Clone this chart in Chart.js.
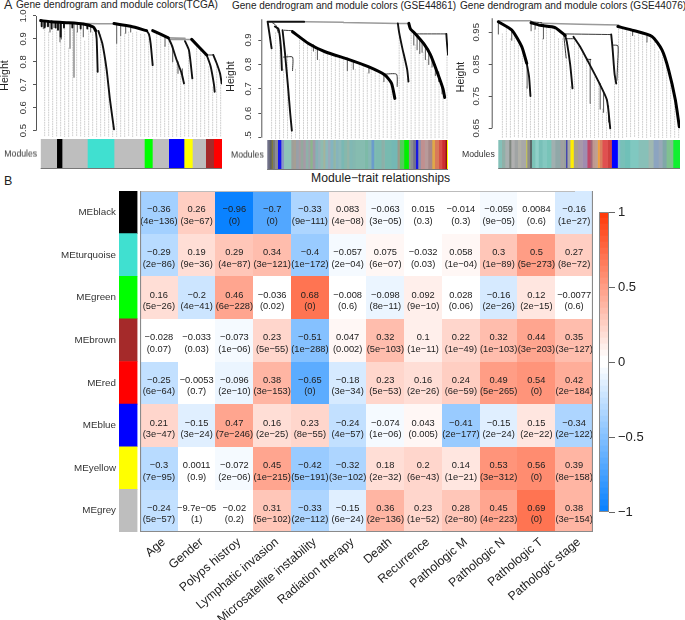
<!DOCTYPE html>
<html><head><meta charset="utf-8">
<script src="https://cdn.jsdelivr.net/npm/chart.js@4"></script>
<style>
html,body{margin:0;padding:0;background:#fff;width:685px;height:620px;overflow:hidden;font-family:"Liberation Sans",Arial,sans-serif;color:#222}
canvas{position:absolute;display:block}
.t{position:absolute;white-space:nowrap;line-height:1}
</style></head><body>
<div class="t" style="left:4px;top:-1px;font-size:12.5px">A</div>
<div class="t" style="left:16px;top:0px;font-size:10.1px">Gene dendrogram and module colors(TCGA)</div>
<div class="t" style="left:232px;top:1px;font-size:10px">Gene dendrogram and module colors (GSE44861)</div>
<div class="t" style="left:460px;top:1px;font-size:10.1px">Gene dendrogram and module colors (GSE44076)</div>
<div class="t" style="left:4px;top:175px;font-size:12.5px">B</div>
<div class="t" style="left:311px;top:172px;font-size:12.2px">Module−trait relationships</div>
<script>
// ---------- Module-trait heatmap data ----------
const modules = ["MEblack","MEturquoise","MEgreen","MEbrown","MEred","MEblue","MEyellow","MEgrey"];
const moduleColors = ["#000000","#40e0d0","#00ff00","#a52a2a","#ff0000","#0000ff","#ffff00","#bebebe"];
const traits = ["Age","Gender","Polyps histroy","Lymphatic invasion","Microsatellite instability","Radiation therapy","Death","Recurrence","Pathologic M","Pathologic N","Pathologic T","Pathologic stage"];
const corrBlack = [-0.36,0.26,-0.96,-0.7,-0.33,0.083,-0.063,0.015,-0.014,-0.059,0.0084,-0.16];
const corrTurquoise = [-0.29,0.19,0.29,0.34,-0.4,-0.057,0.075,-0.032,0.058,0.3,0.5,0.27];
const corrGreen = [0.16,-0.2,0.46,-0.036,0.68,-0.008,-0.098,0.092,0.028,-0.16,0.12,-0.0077];
const corrBrown = [-0.028,-0.033,-0.073,0.23,-0.51,0.047,0.32,0.1,0.22,0.32,0.44,0.35];
const corrRed = [-0.25,-0.0053,-0.096,0.38,-0.65,-0.18,0.23,0.16,0.24,0.49,0.54,0.42];
const corrBlue = [0.21,-0.15,0.47,0.16,0.23,-0.24,-0.074,0.043,-0.41,-0.15,0.15,-0.34];
const corrYellow = [-0.3,0.0011,-0.072,0.45,-0.42,-0.32,0.18,0.2,0.14,0.53,0.56,0.39];
const corrGrey = [-0.24,-9.7e-05,-0.02,0.31,-0.33,-0.15,0.36,0.23,0.28,0.45,0.69,0.38];
const pBlack = ["4e-136","3e-67","0","0","9e-111","4e-08","3e-05","0.3","0.3","9e-05","0.6","1e-27"];
const pTurquoise = ["2e-86","9e-36","4e-87","3e-121","1e-172","2e-04","6e-07","0.03","1e-04","1e-89","5e-273","8e-72"];
const pGreen = ["5e-26","4e-41","6e-228","0.02","0","0.6","8e-11","9e-10","0.06","2e-26","2e-15","0.6"];
const pBrown = ["0.07","0.03","1e-06","5e-55","1e-288","0.002","5e-103","1e-11","1e-49","1e-103","3e-203","3e-127"];
const pRed = ["6e-64","0.7","2e-10","3e-153","0","3e-34","5e-53","2e-26","6e-59","5e-265","0","2e-184"];
const pBlue = ["3e-47","3e-24","7e-246","2e-25","8e-55","4e-57","1e-06","0.005","2e-177","2e-24","2e-22","2e-122"];
const pYellow = ["7e-95","0.9","2e-06","1e-215","5e-191","3e-102","2e-32","6e-43","1e-21","3e-312","0","8e-158"];
const pGrey = ["5e-57","1","0.2","5e-102","2e-112","6e-24","2e-136","1e-52","2e-80","4e-223","0","3e-154"];
const corrRows = [corrBlack,corrTurquoise,corrGreen,corrBrown,corrRed,corrBlue,corrYellow,corrGrey];
const pRows = [pBlack,pTurquoise,pGreen,pBrown,pRed,pBlue,pYellow,pGrey];
const legendTicks = [-1,-0.5,0,0.5,1];

// ---------- Module colour strips (widths along the gene order) ----------
const stripWidths1 = [48,16,76,80,91,24,49,46,25,40,24,25];
const stripColors1 = ["#bebebe","#000000","#bebebe","#40e0d0","#bebebe","#00ff00","#bebebe","#0000ff","#ffff00","#bebebe","#a52a2a","#ff0000"];
const stripWidths2 = [6,6,4,6,9,10,8,22,6,8,8,6,8,7,8,6,7,8,8,7,9,6,8,7,9,7,8,9,8,9,7,9,9,28,10,10,8,5,17,10,20,18,7,13,14,6,7,8,7,8,12,10,12,8,12,10,10,4,4];
const stripColors2 = ["#6f7088","#5e6068","#7d7a3a","#77787a","#8c8c92","#1414ee","#8a98c4","#8fc3b8","#9d9f9a","#a59f94","#98a0a8","#a89aa0","#94a89e","#a79aa6","#8fb0a8","#a0a0a8","#8cb48c","#a09aa8","#86b2b6","#96aeb8","#8fbab0","#a4b49c","#8cb8bc","#9caab8","#84b4c0","#92b6a4","#86b4bc","#8cb8b8","#7ab8b4","#86b8ac","#94b4a8","#80b8b4","#84b8b0","#86bcb0","#7dbaa8","#86b8b4","#6a9ccc","#7cbab0","#7cbab0","#8cb0a8","#78bab0","#74b8b4","#9a9a8a","#52cc5a","#00f000","#8c9c84","#8c8c90","#70708c","#1818e0","#9090a8","#c09090","#b89a9a","#a88888","#e0a848","#d87a5a","#d85048","#cc3030","#901010","#ffff00"];
const stripWidths3 = [10,10,12,6,10,10,10,14,4,8,6,10,10,12,13,13,12,15,10,7,4,9,10,13,14,14,9,6,8,8,6,8,16,12,18,7,15,15,25,30,15,15,12,12,20,21];
const stripColors3 = ["#84c0b8","#90b0a8","#a8b0b0","#808880","#b0b0b0","#a0a4a4","#b0b0a8","#a8a8a8","#c0c060","#8c8c8c","#5c6868","#7cc4b8","#90d0c8","#78c0b8","#84c8c0","#78c4b8","#a0b0b0","#90a8a8","#a0a0a0","#98a09c","#3c3cb0","#a8a8a0","#ffee00","#a8a090","#a898a8","#a08cb0","#c04868","#a06878","#c09890","#c0a090","#f0a040","#d88060","#e05050","#d04040","#0000ff","#88b8d0","#78c0b8","#70c0b8","#80c8c0","#88c0b8","#a0b8b0","#8ca4c0","#98a8b8","#80a8a8","#80c090","#10f030"];

// ---------- Dendrogram branches: [gene order, height] ----------
const guideX = [12,24,36,48,60,72,84,96,108,120,132,144,156,168,180,192,204,216,228,240,252,264,276,288,300,312,324,336,348,360,372,384,396,408,420,432,444,456,468,480,492,504,516,528,540];
const guideTop1 = [.94,.93,.945,.95,.885,.945,.86,.94,.93,.95,.89,.945,.93,.76,.92,.82,.67,.52,.88,.915,.925,.93,.925,.93,.92,.92,.9,.79,.92,.91,.87,.89,.86,.8,.76,.71,.85,.73,.88,.86,.84,.78,.69,.79,.71];
const guideTop2 = [.87,.93,.93,.78,.84,.53,.78,.92,.9,.88,.87,.86,.82,.85,.84,.835,.83,.825,.82,.775,.81,.78,.8,.795,.765,.78,.775,.765,.73,.74,.72,.66,.91,.85,.74,.93,.88,.85,.85,.82,.79,.76,.73,.68,.84];
const guideTop3 = [.945,.97,.93,.94,.925,.9,.78,.75,.96,.97,.93,.965,.96,.96,.93,.93,.87,.78,.93,.91,.89,.87,.73,.81,.79,.71,.7,.66,.82,.96,.96,.955,.955,.94,.95,.945,.92,.94,.92,.89,.88,.84,.8,.75,.67];

const thick1 = [[[0,.98],[30,.975],[78,.971],[128,.965],[158,.952],[165,.936]],[[220,.967],[270,.955],[318,.936]],[[336,.936],[383,.905]],[[453,.898],[498,.83]]];
const mid1 = [[[173,.935],[185,.88],[198,.765],[208,.634],[220,.506]],[[318,.936],[325,.92],[330,.88],[336,.786]],[[383,.905],[393,.874],[408,.808],[423,.75],[430,.706]],[[498,.83],[510,.78],[520,.7],[522,.67]],[[518,.83],[528,.794],[538,.75],[543,.706]],[[165,.935],[168,.9],[171,.757]],[[433,.89],[445,.85],[455,.728]],[[3,.98],[3,.955]],[[12,.978],[12,.95]],[[22,.977],[22,.955]],[[33,.976],[33,.945]],[[45,.974],[45,.95]],[[52,.973],[52,.94]],[[60,.972],[60,.91]],[[70,.971],[70,.95]],[[95,.97],[95,.95]],[[120,.966],[120,.945]],[[140,.96],[140,.945]]];
const pale1 = [[[128,.967],[220,.966]],[[385,.898],[455,.898]],[[383,.905],[433,.903]]];
const thin1 = [[[498,.83],[518,.83]]];
const hair1 = [[[8,.975],[8,.945]],[[15,.975],[15,.955]],[[28,.975],[28,.93]],[[40,.974],[40,.95]],[[58,.972],[58,.888]],[[62,.972],[62,.9]],[[88,.97],[88,.859]],[[100,.97],[100,.733]],[[110,.968],[110,.93]],[[128,.965],[128,.91]],[[150,.96],[150,.93]],[[228,.965],[228,.881]],[[240,.96],[240,.915]],[[255,.955],[255,.925]],[[270,.95],[270,.93]],[[373,.915],[373,.868]],[[396,.87],[396,.8]],[[412,.8],[412,.75]],[[425,.77],[425,.73]]];

const thick2 = [[[75,.934],[123,.886],[173,.852],[243,.821],[303,.791],[353,.757],[373,.723],[383,.661]],[[425,.968],[430,.945],[445,.925],[470,.885],[490,.84],[510,.77],[528,.7],[533,.665]]];
const mid2 = [[[0,.975],[110,.975]],[[392,.968],[396,.93],[405,.87],[420,.78],[424,.73]],[[45,.94],[52,.85],[62,.7],[68,.6],[73,.529]],[[0,.975],[5,.93],[12,.866]],[[22,.955],[33,.945],[40,.87],[43,.777]],[[538,.925],[540,.885],[543,.84]]];
const pale2 = [[[110,.975],[228,.973]],[[228,.972],[392,.968]],[[392,.968],[425,.968]]];
const thin2 = [[[50,.94],[75,.938]],[[48,.83],[75,.83],[75,.775]],[[350,.76],[388,.76],[390,.71]],[[450,.925],[538,.925]],[[15,.97],[25,.96],[32,.93]]];
const hair2 = [[[138,.88],[138,.855]],[[150,.87],[150,.82]],[[240,.825],[240,.775]],[[258,.815],[258,.78]],[[305,.79],[305,.765]],[[350,.76],[350,.73]],[[440,.93],[440,.88]],[[450,.92],[450,.86]],[[458,.9],[458,.845]],[[465,.89],[465,.85]],[[475,.87],[475,.82]],[[485,.85],[485,.8]],[[495,.83],[495,.79]],[[505,.8],[505,.755]],[[515,.77],[515,.73]],[[525,.72],[525,.68]]];

const thick3 = [[[0,.983],[40,.957],[70,.905],[85,.853]],[[98,.98],[125,.972],[170,.965],[200,.94]],[[358,.968],[400,.957],[460,.937],[490,.895],[510,.832],[530,.739],[542,.655]]];
const mid3 = [[[85,.853],[92,.811],[96,.751]],[[200,.94],[205,.92],[215,.85],[222,.775]],[[225,.936],[245,.905],[265,.866],[300,.796],[325,.739],[335,.65]],[[338,.943],[342,.9],[348,.82],[353,.79]]];
const pale3 = [[[0,.986],[97,.986]],[[130,.978],[360,.973]]];
const thin3 = [[[200,.945],[338,.943]],[[205,.93],[225,.93]],[[196,.94],[203,.87]],[[265,.866],[277,.865]],[[342,.91],[358,.908],[357,.85],[355,.8]],[[97,.983],[130,.98]]];
const hair3 = [[[40,.955],[40,.925]],[[0,.983],[0,.945]],[[86,.85],[86,.775]],[[98,.98],[98,.955]],[[135,.975],[135,.93]],[[110,.975],[110,.96]],[[275,.866],[275,.728]],[[305,.79],[305,.71]],[[315,.76],[315,.7]],[[330,.72],[330,.67]],[[402,.957],[402,.94]],[[445,.94],[445,.92]]];

const ticks1 = [0.5,0.6,0.7,0.8,0.9,1.0];
const ticks2 = [0.5,0.6,0.7,0.8,0.9];
const ticks3 = [0.65,0.75,0.85,0.95];

// ---------- Helpers ----------
Chart.defaults.animation = false;
Chart.defaults.responsive = false;
Chart.defaults.font.family = '"Liberation Sans", Arial, sans-serif';
Chart.defaults.plugins.legend.display = false;
Chart.defaults.plugins.tooltip.enabled = false;
Chart.defaults.devicePixelRatio = 1;

function mount(left, top, w, h) {
  const c = document.createElement('canvas');
  c.width = w; c.height = h;
  c.style.cssText = `left:${left}px;top:${top}px;width:${w}px;height:${h}px`;
  document.body.appendChild(c);
  return c;
}
const noPad = s => { s.paddingTop = 0; s.paddingBottom = 0; s.paddingLeft = 0; s.paddingRight = 0; };
function heatColor(v) {
  const t = Math.min(1, Math.floor(Math.abs(v) / 0.04 + 1e-9) * 0.04);
  const mix = (a) => Math.round(255 + (a - 255) * t);
  return v >= 0 ? `rgb(${mix(255)},${mix(50)},${mix(0)})` : `rgb(${mix(0)},${mix(125)},${mix(255)})`;
}
const uMinus = s => String(s).replace(/-/g, '\u2212');
function fmtCorr(v) {
  if (Math.abs(v) < 1e-3) return uMinus(v.toExponential(1).replace(/e-(\d)$/, 'e-0$1'));
  return uMinus(v);
}
function flatten(lines) {
  const out = [];
  lines.forEach(l => { l.forEach(p => out.push({x:p[0], y:p[1]})); out.push({x:l[l.length-1][0], y:null}); });
  return out;
}
function dendro(opts) {
  const c = mount(opts.left, 0, opts.right - opts.left, opts.bottom);
  const guides = [];
  guideX.forEach((x,i) => { guides.push({x, y:opts.guideTop[i]}); guides.push({x, y:opts.yMin}); guides.push({x, y:null}); });
  const ds = (data, color, w, order, extra) => Object.assign({data, borderColor:color, borderWidth:w, showLine:true, pointRadius:0, order, tension:0.2, borderCapStyle:'round', borderJoinStyle:'round'}, extra||{});
  new Chart(c, {
    type:'scatter',
    data:{datasets:[
      ds(flatten(opts.thick), '#000', 3, 1),
      ds(flatten(opts.mid), '#111', 1.9, 2),
      ds(flatten(opts.thin), '#222', 0.9, 3),
      ds(flatten(opts.hair), '#666', 1.1, 4),
      ds(flatten(opts.pale), '#9a9a9a', 1.5, 5),
      ds(guides, '#cfcfcf', 1, 6, {borderDash:[1,1.5], tension:0}),
    ]},
    options:{
      layout:{autoPadding:false, padding:{top:opts.top, left:0, right:0, bottom:0}},
      scales:{
        x:{type:'linear', display:false, min:opts.xMin, max:opts.xMax},
        y:{type:'linear', min:opts.yMin, max:opts.yMax,
          afterBuildTicks:s=>{s.ticks = opts.ticks.map(value=>({value}));},
          afterFit:s=>{s.width = opts.axisX - opts.left; noPad(s);},
          title:{display:true, text:'Height', color:'#222', padding:0, font:{size:10.5, lineHeight:1}},
          border:{display:false},
          grid:{drawOnChartArea:false, tickLength:3, color:'#555', tickColor:'#555'},
          ticks:{minRotation:90, maxRotation:90, crossAlign:'center', padding:3, color:'#333', font:{size:9.5}, autoSkip:false,
            callback:v=>v.toFixed(opts.dec)}
        }
      }
    },
    plugins:[{id:'rAxis', afterDraw(ch){
      const y = ch.scales.y, g = ch.ctx, xx = ch.chartArea.left;
      g.save(); g.strokeStyle='#555'; g.lineWidth=1; g.beginPath();
      g.moveTo(xx+0.5, y.getPixelForValue(opts.axisTop)); g.lineTo(xx+0.5, y.getPixelForValue(opts.axisBottom)); g.stroke(); g.restore();
    }}]
  });
}
function strip(opts) {
  const c = mount(opts.left, opts.top, opts.right - opts.left, opts.h);
  new Chart(c, {
    type:'bar',
    data:{labels:['Modules'], datasets:opts.widths.map((w,i)=>({data:[w], backgroundColor:opts.colors[i], barPercentage:1, categoryPercentage:1}))},
    options:{
      indexAxis:'y',
      layout:{autoPadding:false, padding:0},
      scales:{
        x:{type:'linear', stacked:true, display:false, min:0, max:opts.widths.reduce((a,b)=>a+b,0)},
        y:{type:'category', stacked:true, afterFit:s=>{s.width = opts.stripLeft - opts.left; noPad(s);},
          border:{display:false}, grid:{display:false, drawTicks:false},
          ticks:{color:'#333', padding:3.5, font:{size:8.7}}}
      }
    },
    plugins:[{id:'stripBase', afterDraw(ch){
      const a = ch.chartArea, g = ch.ctx;
      g.save(); g.strokeStyle='#777'; g.lineWidth=1; g.beginPath(); g.moveTo(a.left, a.bottom-0.5); g.lineTo(a.right, a.bottom-0.5); g.stroke(); g.restore();
    }}]
  });
}

// ---------- Panel A ----------
dendro({left:0, right:222, bottom:137, top:14, axisX:36, xMin:-14, xMax:544, yMin:.4725, yMax:1.0087, ticks:ticks1, dec:1, axisTop:1.0, axisBottom:.5, guideTop:guideTop1, thick:thick1, mid:mid1, thin:thin1, hair:hair1, pale:pale1});
dendro({left:226, right:448.3, bottom:139, top:14, axisX:261.3, xMin:-19, xMax:543, yMin:.4947, yMax:1.0065, ticks:ticks2, dec:1, axisTop:.985, axisBottom:.5, guideTop:guideTop2, thick:thick2, mid:mid2, thin:thin2, hair:hair2, pale:pale2});
dendro({left:456, right:680, bottom:138, top:16, axisX:491.7, xMin:-20, xMax:544, yMin:.6197, yMax:1.001, ticks:ticks3, dec:2, axisTop:.994, axisBottom:.65, guideTop:guideTop3, thick:thick3, mid:mid3, thin:thin3, hair:hair3, pale:pale3});
strip({left:0, right:222, stripLeft:40.7, top:139, h:29.5, widths:stripWidths1, colors:stripColors1});
strip({left:226, right:448.3, stripLeft:267.3, top:140, h:29.5, widths:stripWidths2, colors:stripColors2});
strip({left:456, right:680, stripLeft:498.3, top:140, h:29, widths:stripWidths3, colors:stripColors3});

// ---------- Panel B: module colour column with row labels ----------
new Chart(mount(0, 191, 138, 343), {
  type:'bar',
  data:{labels:modules, datasets:[{data:modules.map(()=>1), backgroundColor:moduleColors, barPercentage:1, categoryPercentage:1}]},
  options:{
    indexAxis:'y',
    layout:{autoPadding:false, padding:{top:0, bottom:2, left:0, right:0.5}},
    scales:{
      x:{type:'linear', display:false, min:0, max:1},
      y:{type:'category', afterFit:s=>{s.width = 119; noPad(s);}, border:{display:false}, grid:{display:false, drawTicks:false},
        ticks:{color:'#333', padding:3, font:{size:9.8}, autoSkip:false}}
    }
  }
});

// ---------- Panel B: heatmap ----------
const cellW = 38, cellH = 43;
const cellCache = {};
function cellImage(color) {
  if (!cellCache[color]) {
    const c = document.createElement('canvas'); c.width = cellW; c.height = cellH;
    const g = c.getContext('2d'); g.fillStyle = color; g.fillRect(0,0,cellW,cellH);
    cellCache[color] = c;
  }
  return cellCache[color];
}
new Chart(mount(140, 191, 453, 429), {
  type:'scatter',
  data:{datasets:corrRows.map((row,i)=>({
    data:row.map((v,j)=>({x:traits[j], y:modules[i], v, p:pRows[i][j]})),
    pointRadius:20,
    pointStyle:ctx=>cellImage(heatColor(ctx.raw ? ctx.raw.v : 0)),
  }))},
  options:{
    layout:{autoPadding:false, padding:0},
    scales:{
      x:{type:'category', labels:traits, offset:true, position:'bottom',
        afterFit:s=>{s.height = 88; noPad(s);}, border:{display:false}, grid:{display:false, drawTicks:false},
        ticks:{autoSkip:false, minRotation:40, maxRotation:40, padding:3, labelOffset:5, color:'#222', font:{size:12.2}}},
      y:{type:'category', labels:modules, offset:true, display:false}
    }
  },
  plugins:[{id:'cellText', afterDatasetsDraw(ch){
    const g = ch.ctx, x = ch.scales.x, y = ch.scales.y, a = ch.chartArea;
    g.save();
    g.fillStyle='#222'; g.textAlign='center'; g.textBaseline='middle'; g.font='9.3px "Liberation Sans", Arial, sans-serif';
    corrRows.forEach((row,i)=>row.forEach((v,j)=>{
      const cx = x.getPixelForValue(j), cy = y.getPixelForValue(i);
      g.fillText(fmtCorr(v), cx, cy-2.5);
      g.fillText('('+uMinus(pRows[i][j])+')', cx, cy+9);
    }));
    g.strokeStyle='#bcbcbc'; g.lineWidth=1; g.beginPath(); g.moveTo(a.left, a.top+0.5); g.lineTo(a.right-18, a.top+0.5); g.stroke();
    g.strokeStyle='#8a8a8a'; g.lineWidth=1.2; g.beginPath(); g.moveTo(a.left+0.5, a.top); g.lineTo(a.left+0.5, a.bottom-0.5); g.lineTo(a.right-0.5, a.bottom-0.5); g.lineTo(a.right-0.5, a.top); g.stroke();
    g.restore();
  }}]
});

// ---------- Panel B: colour key ----------
const legendLevels = [];
for (let k = -25; k < 25; k++) legendLevels.push([k*0.04, (k+1)*0.04]);
new Chart(mount(599, 205, 86, 315), {
  type:'bar',
  data:{labels:['key'], datasets:legendLevels.map(l=>({data:[l], backgroundColor:heatColor(l[0]>=0?l[0]:l[1]), grouped:false, barPercentage:1, categoryPercentage:1}))},
  options:{
    layout:{autoPadding:false, padding:{top:7, bottom:8, left:0, right:0}},
    scales:{
      x:{type:'category', display:false},
      y:{type:'linear', position:'right', min:-1, max:1,
        afterBuildTicks:s=>{s.ticks = legendTicks.map(value=>({value}));},
        afterFit:s=>{s.width = 76; noPad(s);},
        border:{display:false},
        grid:{drawOnChartArea:false, tickLength:6, tickColor:'#666'},
        ticks:{padding:3, color:'#222', font:{size:13}, callback:v=>uMinus(v)}}
    }
  },
  plugins:[{id:'keyBox', afterDraw(ch){
    const a = ch.chartArea, g = ch.ctx;
    g.save(); g.strokeStyle='#8a8a8a'; g.lineWidth=1; g.strokeRect(a.left+0.5, a.top+0.5, a.right-a.left-1, a.bottom-a.top-1); g.restore();
  }}]
});
</script>
</body></html>
